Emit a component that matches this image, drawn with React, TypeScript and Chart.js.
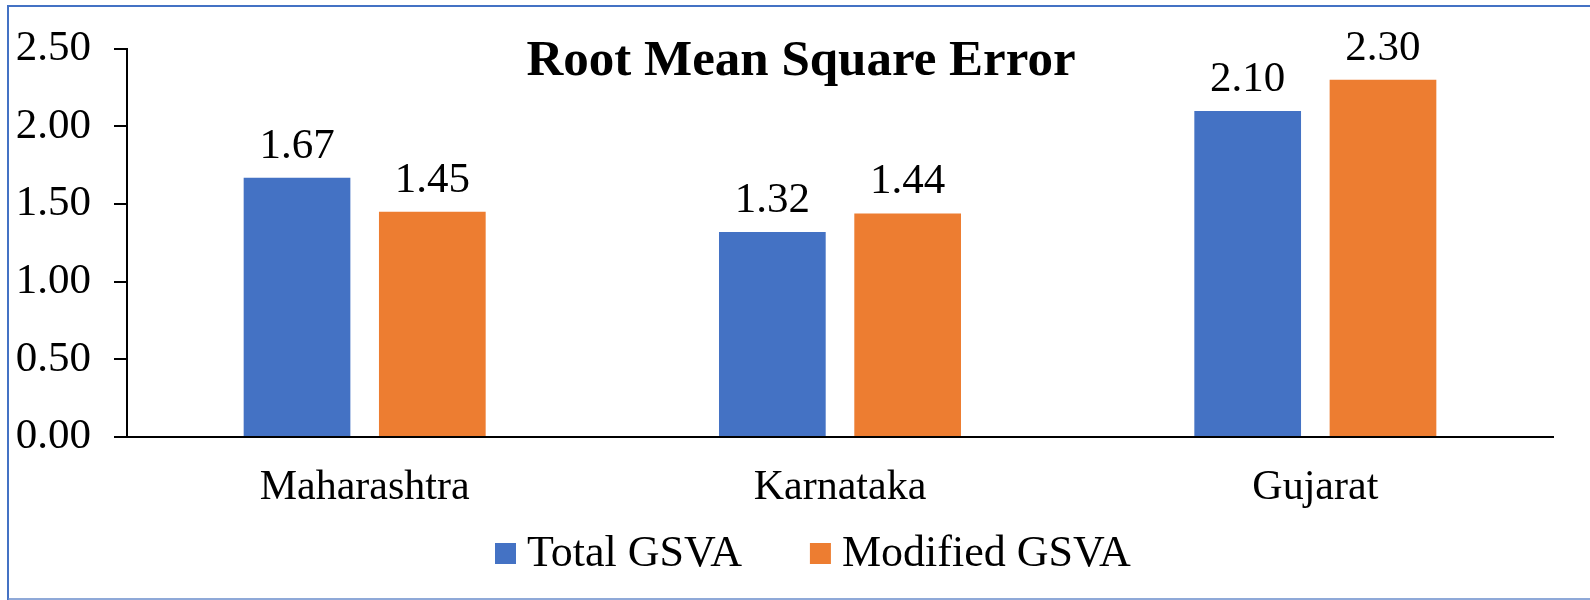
import React, { useEffect, useRef } from 'react';
import { Chart, registerables } from 'chart.js';

Chart.register(...registerables);

const categories = ['Maharashtra', 'Karnataka', 'Gujarat'];
const totalGsva = [1.67, 1.32, 2.1];
const modifiedGsva = [1.45, 1.44, 2.3];
const seriesNames = ['Total GSVA', 'Modified GSVA'];
const seriesColors = ['#4472C4', '#ED7D31'];
const chartTitle = 'Root Mean Square Error';
const yMin = 0;
const yMax = 2.5;
const yStep = 0.5;

const FONT = '"Liberation Serif", "Times New Roman", serif';

const framePlugin = {
  id: 'frame',
  beforeDraw(chart: any) {
    const ctx = chart.ctx;
    ctx.save();
    ctx.strokeStyle = '#4472C4';
    ctx.lineWidth = 2;
    ctx.beginPath();
    ctx.moveTo(8, 600);
    ctx.lineTo(8, 6);
    ctx.lineTo(1590, 6);
    ctx.stroke();
    ctx.lineWidth = 1.5;
    ctx.strokeStyle = '#6A8CCB';
    ctx.beginPath();
    ctx.moveTo(8, 599);
    ctx.lineTo(1590, 599);
    ctx.stroke();
    ctx.restore();
  },
};

const valueLabelPlugin = {
  id: 'valueLabels',
  afterDatasetsDraw(chart: any) {
    const ctx = chart.ctx;
    ctx.save();
    ctx.font = `43px ${FONT}`;
    ctx.fillStyle = '#000';
    ctx.textAlign = 'center';
    ctx.textBaseline = 'alphabetic';
    chart.data.datasets.forEach((ds: any, i: number) => {
      const meta = chart.getDatasetMeta(i);
      meta.data.forEach((bar: any, j: number) => {
        const v = ds.data[j] as number;
        ctx.fillText(v.toFixed(2), bar.x, bar.y - 20);
      });
    });
    ctx.restore();
  },
};

const titlePlugin = {
  id: 'overlayTitle',
  afterDraw(chart: any) {
    const ctx = chart.ctx;
    ctx.save();
    ctx.font = `bold 51px ${FONT}`;
    ctx.fillStyle = '#000';
    ctx.textAlign = 'center';
    ctx.textBaseline = 'alphabetic';
    ctx.fillText(chartTitle, 801, 75);
    ctx.restore();
  },
};

const legendPlugin = {
  id: 'customLegend',
  afterDraw(chart: any) {
    const ctx = chart.ctx;
    ctx.save();
    ctx.font = `44px ${FONT}`;
    ctx.textAlign = 'left';
    ctx.textBaseline = 'alphabetic';
    let x = 495;
    const baseline = 566;
    chart.data.datasets.forEach((ds: any, i: number) => {
      ctx.fillStyle = ds.backgroundColor;
      ctx.fillRect(x, 543, 21, 21);
      ctx.fillStyle = '#000';
      const tx = x + 21 + 11;
      ctx.fillText(ds.label, tx, baseline);
      x = tx + ctx.measureText(ds.label).width + 68;
    });
    ctx.restore();
  },
};

export default function App() {
  const canvasRef = useRef<HTMLCanvasElement | null>(null);

  useEffect(() => {
    if (!canvasRef.current) return;
    const chart = new Chart(canvasRef.current, {
      type: 'bar',
      data: {
        labels: categories,
        datasets: [
          {
            label: seriesNames[0],
            data: totalGsva,
            backgroundColor: seriesColors[0],
            categoryPercentage: 0.5693,
            barPercentage: 0.7886,
          },
          {
            label: seriesNames[1],
            data: modifiedGsva,
            backgroundColor: seriesColors[1],
            categoryPercentage: 0.5693,
            barPercentage: 0.7886,
          },
        ],
      },
      options: {
        responsive: false,
        animation: false,
        layout: { padding: { left: 0, right: 37, top: 47, bottom: 0 } },
        plugins: {
          legend: { display: false },
          title: { display: false },
          tooltip: { enabled: false },
        },
        scales: {
          x: {
            grid: { display: false, drawTicks: false },
            border: { display: true, color: '#000', width: 2 },
            ticks: {
              color: '#000',
              font: { family: FONT, size: 42 },
              padding: 26,
              maxRotation: 0,
              autoSkip: false,
            },
            afterFit(scale: any) {
              scale.height = 163;
            },
          },
          y: {
            min: yMin,
            max: yMax,
            grid: {
              drawOnChartArea: false,
              drawTicks: true,
              tickLength: 13,
              color: '#000',
              lineWidth: 2,
            },
            border: { display: true, color: '#000', width: 2 },
            ticks: {
              stepSize: yStep,
              color: '#000',
              font: { family: FONT, size: 43 },
              padding: 23,
              callback: (v: any) => Number(v).toFixed(2),
            },
            afterFit(scale: any) {
              scale.width = 127;
            },
          },
        },
      },
      plugins: [framePlugin, valueLabelPlugin, titlePlugin, legendPlugin],
    } as any);
    return () => chart.destroy();
  }, []);

  return (
    <div style={{ position: 'absolute', left: 0, top: 0, width: 1590, height: 600, background: '#fff' }}>
      <canvas ref={canvasRef} width={1590} height={600} style={{ display: 'block' }} />
    </div>
  );
}
